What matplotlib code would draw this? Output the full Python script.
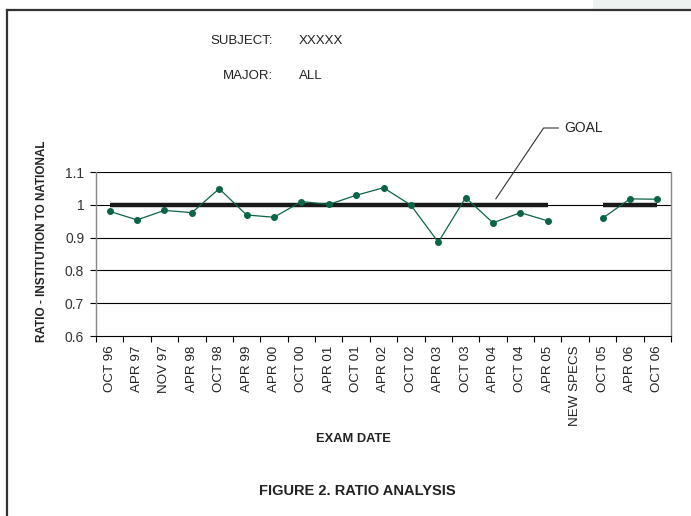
import numpy as np
import matplotlib
matplotlib.use("Agg")
import matplotlib.pyplot as plt
from matplotlib.patches import Rectangle
from matplotlib.lines import Line2D

# Data
exam_dates = [
    "OCT 96", "APR 97", "NOV 97", "APR 98", "OCT 98", "APR 99", "APR 00",
    "OCT 00", "APR 01", "OCT 01", "APR 02", "OCT 02", "APR 03", "OCT 03",
    "APR 04", "OCT 04", "APR 05", "NEW SPECS", "OCT 05", "APR 06", "OCT 06",
]
ratio = [
    0.980, 0.954, 0.983, 0.976, 1.049, 0.969, 0.962,
    1.010, 1.001, 1.029, 1.052, 0.999, 0.886, 1.022,
    0.945, 0.976, 0.951, np.nan, 0.959, 1.018, 1.017,
]
goal = [1.0] * 17 + [np.nan] + [1.0] * 3
y_ticks = [0.6, 0.7, 0.8, 0.9, 1.0, 1.1]
y_tick_labels = ["0.6", "0.7", "0.8", "0.9", "1", "1.1"]

W, H = 691, 516
plt.rcParams['font.family'] = ['Liberation Sans', 'DejaVu Sans']

fig = plt.figure(figsize=(W / 100, H / 100), dpi=100)


def fx(px):
    return px / W


def fy(py):
    return 1 - py / H


# page frame and grey tab at top right
fig.patches.append(Rectangle((fx(593), fy(9)), fx(98), 9 / H, transform=fig.transFigure,
                             facecolor="#eef2f0", edgecolor="none", zorder=0))
fig.lines.append(Line2D([fx(7), 1.0], [fy(10), fy(10)], transform=fig.transFigure,
                        color="#333333", lw=1.6))
fig.lines.append(Line2D([fx(7), fx(7)], [fy(10), 0.0], transform=fig.transFigure,
                        color="#333333", lw=1.6))

ax = fig.add_axes([fx(96), fy(336), fx(671) - fx(96), (336 - 172) / H])
x = np.arange(len(exam_dates))

for yv in y_ticks[1:]:
    ax.axhline(yv, color="black", lw=0.8, zorder=1)

ax.plot(x, goal, color="#1a1a1a", lw=3.2, solid_capstyle="butt", zorder=2)
ax.plot(x, ratio, color="#0b6544", lw=0.9, marker="o", markersize=4, zorder=3)

ax.set_xlim(-0.5, len(exam_dates) - 0.5)
ax.set_ylim(0.6, 1.1)

ax.set_yticks(y_ticks)
ax.set_yticklabels(y_tick_labels, fontsize=10, color="#333333")
ax.tick_params(axis="y", direction="out", length=4.5, width=0.8, pad=4)

ax.set_xticks(np.arange(len(exam_dates) + 1) - 0.5)
ax.set_xticklabels([])
ax.set_xticks(x, minor=True)
ax.set_xticklabels(exam_dates, minor=True, rotation=90, fontsize=9.6, color="#222222")
ax.tick_params(axis="x", which="major", direction="out", length=4, width=0.8)
ax.tick_params(axis="x", which="minor", length=0, pad=7)

for side in ["left", "right"]:
    ax.spines[side].set_color("#888888")
    ax.spines[side].set_linewidth(1.0)
ax.spines["top"].set_visible(False)
ax.spines["bottom"].set_color("black")
ax.spines["bottom"].set_linewidth(0.8)

ax.annotate("GOAL", xy=(14.1, 1.018), xycoords="data",
            xytext=(fx(564), fy(128)), textcoords="figure fraction",
            ha="left", va="center", fontsize=10, color="#222222",
            arrowprops=dict(arrowstyle="-", color="#333333", lw=0.8,
                            connectionstyle="angle,angleA=0,angleB=56,rad=0",
                            relpos=(0, 0.5), shrinkA=2, shrinkB=0))

fig.text(fx(273), fy(41), "SUBJECT:", ha="right", va="center", fontsize=9.5, color="#222222")
fig.text(fx(299), fy(41), "XXXXX", ha="left", va="center", fontsize=9.5, color="#222222")
fig.text(fx(273), fy(76), "MAJOR:", ha="right", va="center", fontsize=9.5, color="#222222")
fig.text(fx(299), fy(76), "ALL", ha="left", va="center", fontsize=9.5, color="#222222")

fig.text(fx(42), fy(241), "RATIO - INSTITUTION TO NATIONAL", rotation=90,
         ha="center", va="center", fontsize=8.5, fontweight="bold", color="#222222")
fig.text(fx(353), fy(439), "EXAM DATE", ha="center", va="center",
         fontsize=9.3, fontweight="bold", color="#222222")
fig.text(fx(357), fy(491), "FIGURE 2. RATIO ANALYSIS", ha="center", va="center",
         fontsize=10.5, fontweight="bold", color="#222222")

fig.savefig("out.png", dpi=100)
plt.close(fig)
